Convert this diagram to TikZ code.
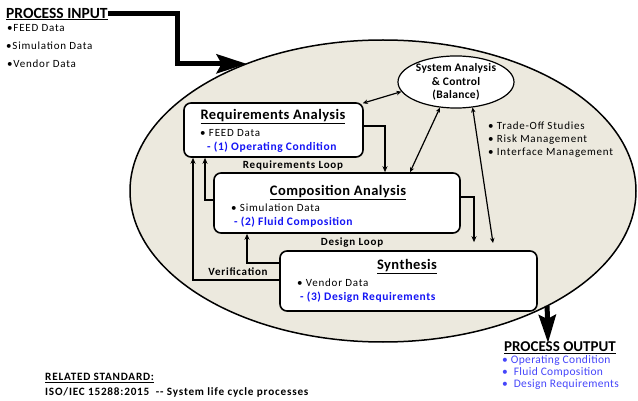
\documentclass[tikz,border=0pt]{standalone}
\usepackage{fontspec}
\setmainfont{Carlito}
\newfontfamily\widefont[LetterSpace=7]{Carlito}
\newfontfamily\halfwidefont[LetterSpace=3]{Carlito}
\newfontfamily\stepfont[LetterSpace=5]{Carlito}
\usetikzlibrary{arrows.meta,shapes.geometric}
\definecolor{lifefill}{RGB}{236,233,222}
\definecolor{stepblue}{RGB}{20,20,245}
\definecolor{outblue}{RGB}{70,70,250}
\tikzset{stage box/.style={draw,line width=1.6pt,rounded corners=7pt,fill=white,inner sep=0pt},
    title text/.style={font=\halfwidefont\fontsize{14.5}{16}\bfseries\selectfont,inner sep=0pt},
    item text/.style={font=\widefont\fontsize{11}{13}\selectfont,inner sep=0pt,anchor=west},
    step text/.style={font=\stepfont\fontsize{11.5}{13}\bfseries\selectfont,text=stepblue,inner sep=0pt,anchor=west},
    loop label/.style={font=\widefont\fontsize{11}{13}\bfseries\selectfont,inner sep=0pt},
    note text/.style={font=\widefont\fontsize{11.2}{13}\bfseries\selectfont,inner sep=0pt,anchor=west},
    loop line/.style={line width=1.5pt,-{Stealth[length=6pt,width=5pt]}},
    link line/.style={line width=1.2pt,{Stealth[length=5pt,width=4.5pt]}-{Stealth[length=5pt,width=4.5pt]}},
    big arrow/.style={line width=5pt,-{Stealth[length=30pt,width=19pt,inset=5pt]}}}
\begin{document}
\begin{tikzpicture}[x=1pt,y=-1pt]
    \useasboundingbox (0,0) rectangle (638,401);
    \node[ellipse,draw,line width=1.5pt,fill=lifefill,minimum width=506pt,minimum height=302pt,inner sep=0pt,outer sep=0pt] (lifecycle) at (383,191) {};
    \node[title text,anchor=west,font=\fontsize{15.5}{17}\bfseries\selectfont] (input) at (6,14) {\underline{PROCESS INPUT}};
    \node[item text] (in1) at (7,28) {•FEED Data};
    \node[item text] (in2) at (6,46) {•Simulation Data};
    \node[item text] (in3) at (7,64) {•Vendor Data};
    \draw[big arrow] (input.east) -- (177,14) |- (lifecycle.137);
    \node[stage box,minimum width=179pt,minimum height=54pt] (req) at (273.5,130) {};
    \node[stage box,minimum width=246pt,minimum height=60pt] (comp) at (337,203) {};
    \node[stage box,minimum width=257pt,minimum height=60pt] (synth) at (408.5,281) {};
    \node[ellipse,draw,line width=1.2pt,fill=white,minimum width=116pt,minimum height=50pt,inner sep=0pt,align=center,font=\halfwidefont\fontsize{11.5}{13.5}\bfseries\selectfont] (sys) at (456,82) {System Analysis\\ \& Control\\ (Balance)};
    \node[title text] (reqtitle) at (273,117) {\underline{Requirements Analysis}};
    \node[item text] (reqdata) at (200,133) {• FEED Data};
    \node[step text] (reqstep) at (207,147) {- (1) Operating Condition};
    \node[title text] (comptitle) at (338,193) {\underline{Composition Analysis}};
    \node[item text] (compdata) at (231,208) {• Simulation Data};
    \node[step text] (compstep) at (234,222) {- (2) Fluid Composition};
    \node[title text] (synthtitle) at (407,267) {\underline{Synthesis}};
    \node[item text] (synthdata) at (297,283) {• Vendor Data};
    \node[step text] (synthstep) at (300,297) {- (3) Design Requirements};
    \node[item text] (trade1) at (488,126) {• Trade-Off Studies};
    \node[item text] (trade2) at (488,140) {• Risk Management};
    \node[item text] (trade3) at (488,153) {• Interface Management};
    \coordinate (tradeend) at (493,243);
    \draw[link line] ([xshift=-1pt,yshift=-1pt]req.north east) -- (sys.190);
    \draw[link line] ([xshift=73pt]comp.north) -- (sys.238);
    \draw[link line] (sys.303) -- (tradeend);
    \draw[loop line] ([yshift=4pt]req.east) -| ([xshift=48pt]comp.north);
    \draw[loop line] ([yshift=6pt]comp.east) -| ([xshift=65.5pt,yshift=8pt]synth.north);
    \draw[loop line] ([yshift=3pt]comp.west) -| ([xshift=-68.5pt]req.south);
    \draw[loop line] ([yshift=1pt]synth.west) -| ([xshift=-80.5pt]req.south);
    \draw[loop line] ([yshift=18pt]synth.west) -| ([xshift=-90pt]comp.south);
    \node[loop label] (reqloop) at (293,166) {Requirements Loop};
    \node[loop label] (designloop) at (352,243) {Design Loop};
    \node[loop label] (verify) at (238,272) {Verification};
    \coordinate (outtip) at (548,343);
    \draw[big arrow,-{Stealth[length=28pt,width=17pt,inset=4pt]}] (lifecycle.-35) -- (outtip);
    \node[title text,anchor=west,font=\fontsize{15}{17}\bfseries\selectfont] (output) at (504,348) {\underline{PROCESS OUTPUT}};
    \node[item text,font=\halfwidefont\fontsize{11.5}{13}\selectfont,text=outblue] (out1) at (502,360) {• Operating Condition};
    \node[item text,font=\halfwidefont\fontsize{11.5}{13}\selectfont,text=outblue] (out2) at (502,372) {•\ \ Fluid Composition};
    \node[item text,font=\halfwidefont\fontsize{11.5}{13}\selectfont,text=outblue] (out3) at (502,385) {•\ \ Design Requirements};
    \node[note text] (stdtitle) at (45,378) {\underline{RELATED STANDARD:}};
    \node[note text] (stdtext) at (45,392) {ISO/IEC 15288:2015\ \ -- System life cycle processes};
\end{tikzpicture}
\end{document}
